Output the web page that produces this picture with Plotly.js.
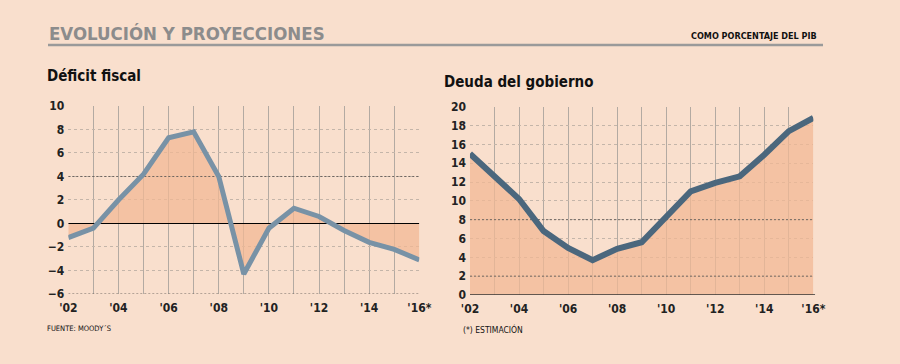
<!DOCTYPE html>
<html><head><meta charset="utf-8">
<script src="https://cdn.plot.ly/plotly-3.0.1.min.js"></script>
<style>html,body{margin:0;padding:0;background:#f9dfcd;}#chart{width:900px;height:364px;}</style>
</head><body><div id="chart"></div>
<script>
const years = [2002,2003,2004,2005,2006,2007,2008,2009,2010,2011,2012,2013,2014,2015,2016];
const yearLabels = ["'02","","'04","","'06","","'08","","'10","","'12","","'14","","'16*"];
const deficit = [-1.2,-0.4,2.0,4.2,7.3,7.8,4.0,-4.3,-0.4,1.3,0.6,-0.6,-1.6,-2.2,-3.1];
const deuda = [15.0,12.5,10.2,6.8,5.0,3.7,4.9,5.6,8.4,11.0,11.9,12.6,14.9,17.4,18.8];
const deficitTicks = [-6,-4,-2,0,2,4,6,8,10];
const deudaTicks = [0,2,4,6,8,10,12,14,16,18,20];
const deficitRefLines = [4, -6];
const deudaRefLines = [8, 2];
const xEnds = [2002, 2016];

const FONT = "DejaVu Sans Condensed, DejaVu Sans, sans-serif";
const fillCol = "rgba(241,184,148,0.75)";

function refTrace(yv, xa, ya, color, width, dash) {
  return {x: xEnds, y: [yv, yv], type: 'scatter', mode: 'lines', xaxis: xa, yaxis: ya,
    line: {color: color, width: width, dash: dash}, hoverinfo: 'skip'};
}

const traces = [
  {x: years, y: deficit, type: 'scatter', mode: 'none', fill: 'tozeroy', fillcolor: fillCol,
   xaxis: 'x', yaxis: 'y', hoverinfo: 'skip'},
  {x: years, y: deuda, type: 'scatter', mode: 'none', fill: 'tozeroy', fillcolor: fillCol,
   xaxis: 'x2', yaxis: 'y2', hoverinfo: 'skip'}
];
deficitRefLines.forEach(v => traces.push(refTrace(v, 'x', 'y', '#6e6660', 1, '2px,2px')));
deudaRefLines.forEach(v => traces.push(refTrace(v, 'x2', 'y2', '#6e6660', 1, '2px,2px')));
traces.push(refTrace(0, 'x', 'y', '#000', 1.2, 'solid'));
traces.push({x: years, y: deficit, type: 'scatter', mode: 'lines',
   line: {color: '#7892a6', width: 5}, xaxis: 'x', yaxis: 'y', hoverinfo: 'skip'});
traces.push({x: years, y: deuda, type: 'scatter', mode: 'lines',
   line: {color: '#4b677d', width: 6}, xaxis: 'x2', yaxis: 'y2', hoverinfo: 'skip'});

const tickFont = {family: FONT, size: 12, color: '#222', weight: 'bold'};
const xCommon = {range: [2002, 2016], tickvals: years, ticktext: yearLabels, showgrid: true,
  gridcolor: '#b3aaa2', gridwidth: 1, ticks: 'outside', ticklen: 3, tickcolor: 'rgba(0,0,0,0)', tickfont: tickFont, zeroline: false,
  showline: false, fixedrange: true};
const yCommon = {showgrid: true, gridcolor: '#c4b5a9', gridwidth: 1, griddash: 'dot', ticks: '',
  tickfont: tickFont, fixedrange: true, showline: false, ticklabelstandoff: 3, zeroline: false};

const layout = {
  width: 900, height: 364, margin: {l: 0, r: 0, t: 0, b: 0},
  paper_bgcolor: '#f9dfcd', plot_bgcolor: 'rgba(0,0,0,0)', showlegend: false,
  font: {family: FONT},
  xaxis: Object.assign({}, xCommon, {domain: [0.0759, 0.4659], anchor: 'y'}),
  yaxis: Object.assign({}, yCommon, {domain: [0.1923, 0.7088], range: [-6, 10], tickvals: deficitTicks, anchor: 'x'}),
  xaxis2: Object.assign({}, xCommon, {domain: [0.5222, 0.9037], anchor: 'y2'}),
  yaxis2: Object.assign({}, yCommon, {domain: [0.1896, 0.7069], range: [0, 20], tickvals: deudaTicks, anchor: 'x2'}),
  shapes: [
    {type: 'line', xref: 'x2 domain', yref: 'y2', x0: 0, x1: 1.005, y0: 0, y1: 0, line: {color: '#333', width: 1.5}},
    {type: 'line', xref: 'paper', yref: 'paper', x0: 48/900, x1: 823/900, y0: 1-45/364, y1: 1-45/364,
     line: {color: '#9a9a9a', width: 2.5}}
  ],
  annotations: [
    {text: 'EVOLUCIÓN Y PROYECCIONES', xref: 'paper', yref: 'paper', x: 47/900, y: 1-33/364, xanchor: 'left', yanchor: 'middle',
     showarrow: false, font: {family: FONT, size: 18.5, color: '#8c8c8c', weight: 'bold'}},
    {text: 'COMO PORCENTAJE DEL PIB', xref: 'paper', yref: 'paper', x: 819/900, y: 1-36/364, xanchor: 'right', yanchor: 'middle',
     showarrow: false, font: {family: FONT, size: 9, color: '#111', weight: 'bold'}},
    {text: 'Déficit fiscal', xref: 'paper', yref: 'paper', x: 45/900, y: 1-76/364, xanchor: 'left', yanchor: 'middle',
     showarrow: false, font: {family: FONT, size: 15, color: '#111', weight: 'bold'}},
    {text: 'Deuda del gobierno', xref: 'paper', yref: 'paper', x: 442/900, y: 1-82/364, xanchor: 'left', yanchor: 'middle',
     showarrow: false, font: {family: FONT, size: 15, color: '#111', weight: 'bold'}},
    {text: 'FUENTE: MOODY´S', xref: 'paper', yref: 'paper', x: 45/900, y: 1-328/364, xanchor: 'left', yanchor: 'middle',
     showarrow: false, font: {family: FONT, size: 7.5, color: '#111'}},
    {text: '(*) ESTIMACIÓN', xref: 'paper', yref: 'paper', x: 461/900, y: 1-329/364, xanchor: 'left', yanchor: 'middle',
     showarrow: false, font: {family: FONT, size: 8.5, color: '#111'}}
  ]
};

Plotly.newPlot('chart', traces, layout, {displayModeBar: false, staticPlot: true});
</script></body></html>
